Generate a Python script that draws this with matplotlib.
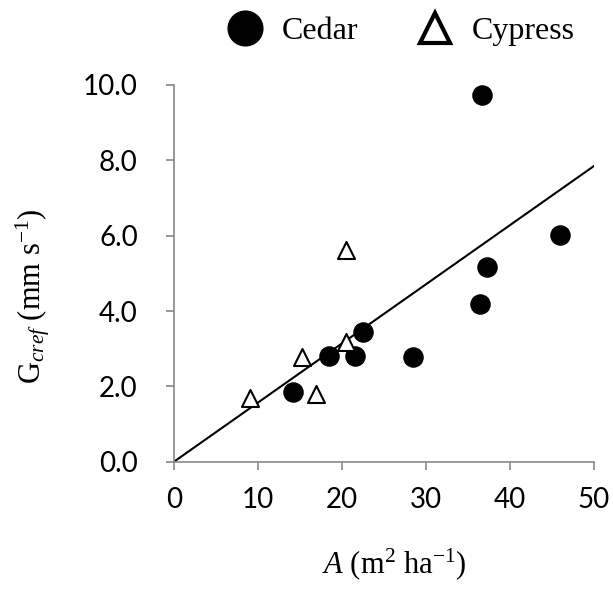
import matplotlib
matplotlib.use("Agg")
import matplotlib.pyplot as plt
from matplotlib.lines import Line2D
import numpy as np

# basal area (m2/ha) vs reference canopy conductance (mm/s)
cedar_x = [14.2, 18.45, 21.6, 22.5, 28.45, 36.4, 37.3, 36.7, 46.0]
cedar_y = [1.84, 2.81, 2.81, 3.43, 2.78, 4.18, 5.16, 9.73, 6.03]
cypress_x = [9.0, 15.3, 16.9, 20.5, 20.5]
cypress_y = [1.68, 2.77, 1.81, 3.19, 5.61]
fit_slope = 0.157
fit_range = [0, 50]

x_ticks = [0, 10, 20, 30, 40, 50]
y_ticks = [0.0, 2.0, 4.0, 6.0, 8.0, 10.0]

plt.rcParams['mathtext.fontset'] = 'custom'
plt.rcParams['mathtext.rm'] = 'Liberation Serif'
plt.rcParams['mathtext.it'] = 'Liberation Serif:italic'

fig = plt.figure(figsize=(6.13, 5.98), dpi=100)
ax = fig.add_axes([0.2838, 0.2279, 0.6852, 0.63])

fx = np.array(fit_range, dtype=float)
ax.plot(fx, fit_slope * fx, color='black', lw=1.5, zorder=2)
ax.scatter(cedar_x, cedar_y, s=190, marker='o', color='black', zorder=3)
ax.scatter(cypress_x, cypress_y, s=150, marker='^', facecolor='white',
           edgecolor='black', linewidths=1.5, zorder=4)

ax.set_xlim(0, 50)
ax.set_ylim(0, 10)
ax.set_xticks(x_ticks)
ax.set_yticks(y_ticks)
ax.set_xticklabels([str(v) for v in x_ticks])
ax.set_yticklabels(['%.1f' % v for v in y_ticks])
for lab in ax.get_xticklabels() + ax.get_yticklabels():
    lab.set_fontfamily('Lato')
    lab.set_fontsize(20)
ax.tick_params(direction='out', length=6, width=1.2, color='#888888')
ax.tick_params(axis='x', pad=12)
ax.tick_params(axis='y', pad=20)
for side in ['top', 'right']:
    ax.spines[side].set_visible(False)
for side in ['left', 'bottom']:
    ax.spines[side].set_color('#888888')
    ax.spines[side].set_linewidth(1.2)

ax.set_xlabel(r'$A$ (m$^{2}$ ha$^{\mathrm{-1}}$)', fontfamily='Liberation Serif',
              fontsize=22, labelpad=24)
ax.set_ylabel(r'G$_{cref}$ (mm s$^{\mathrm{-1}}$)', fontfamily='Liberation Serif',
              fontsize=22, labelpad=22)
ax.xaxis.label.set_x(0.524)
ax.yaxis.label.set_y(0.44)

handles = [
    Line2D([], [], ls='none', marker='o', ms=25, color='black'),
    Line2D([], [], ls='none', marker='^', ms=22, markerfacecolor='white',
           markeredgecolor='black', markeredgewidth=3),
]
fig.legend(handles, ['Cedar', 'Cypress'], loc='center', ncol=2,
           bbox_to_anchor=(0.651, 0.948), frameon=False,
           prop={'family': 'Liberation Serif', 'size': 23},
           handletextpad=0.45, columnspacing=1.7, handlelength=1.4)

fig.savefig('out.png', dpi=100)
